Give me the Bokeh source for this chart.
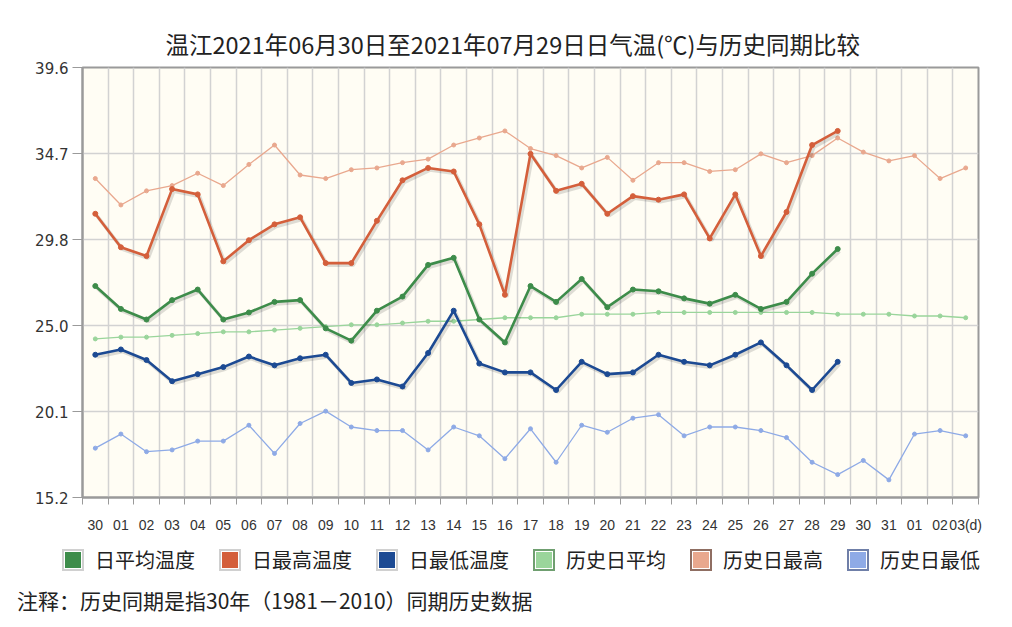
from bokeh.plotting import figure
from bokeh.layouts import column
from bokeh.models import Range1d, FixedTicker, ColumnDataSource, Div
from bokeh.transform import dodge
from bokeh.embed import file_html
from bokeh.resources import INLINE

# ---------------- data ----------------
day_labels = ["30", "01", "02", "03", "04", "05", "06", "07", "08", "09", "10",
              "11", "12", "13", "14", "15", "16", "17", "18", "19", "20", "21",
              "22", "23", "24", "25", "26", "27", "28", "29", "30", "31",
              "01", "02", "03(d)"]

daily_avg = [27.2, 25.9, 25.3, 26.4, 27.0, 25.3, 25.7, 26.3, 26.4, 24.8, 24.1,
             25.8, 26.6, 28.4, 28.8, 25.3, 24.0, 27.2, 26.3, 27.6, 26.0, 27.0,
             26.9, 26.5, 26.2, 26.7, 25.9, 26.3, 27.9, 29.3]
daily_max = [31.3, 29.4, 28.9, 32.7, 32.4, 28.6, 29.8, 30.7, 31.1, 28.5, 28.5,
             30.9, 33.2, 33.9, 33.7, 30.7, 26.7, 34.7, 32.6, 33.0, 31.3, 32.3,
             32.1, 32.4, 29.9, 32.4, 28.9, 31.4, 35.2, 36.0]
daily_min = [23.3, 23.6, 23.0, 21.8, 22.2, 22.6, 23.2, 22.7, 23.1, 23.3, 21.7,
             21.9, 21.5, 23.4, 25.8, 22.8, 22.3, 22.3, 21.3, 22.9, 22.2, 22.3,
             23.3, 22.9, 22.7, 23.3, 24.0, 22.7, 21.3, 22.9]
hist_avg = [24.2, 24.3, 24.3, 24.4, 24.5, 24.6, 24.6, 24.7, 24.8, 24.9, 25.0,
            25.0, 25.1, 25.2, 25.2, 25.3, 25.4, 25.4, 25.4, 25.6, 25.6, 25.6,
            25.7, 25.7, 25.7, 25.7, 25.7, 25.7, 25.7, 25.6, 25.6, 25.6, 25.5,
            25.5, 25.4]
hist_max = [33.3, 31.8, 32.6, 32.9, 33.6, 32.9, 34.1, 35.2, 33.5, 33.3, 33.8,
            33.9, 34.2, 34.4, 35.2, 35.6, 36.0, 35.0, 34.6, 33.9, 34.5, 33.2,
            34.2, 34.2, 33.7, 33.8, 34.7, 34.2, 34.6, 35.6, 34.8, 34.3, 34.6,
            33.3, 33.9]
hist_min = [18.0, 18.8, 17.8, 17.9, 18.4, 18.4, 19.3, 17.7, 19.4, 20.1, 19.2,
            19.0, 19.0, 17.9, 19.2, 18.7, 17.4, 19.1, 17.2, 19.3, 18.9, 19.7,
            19.9, 18.7, 19.2, 19.2, 19.0, 18.6, 17.2, 16.5, 17.3, 16.2, 18.8,
            19.0, 18.7]

y_ticks = [15.2, 20.08, 24.96, 29.84, 34.72, 39.6]
y_tick_labels = ["15.2", "20.1", "25.0", "29.8", "34.7", "39.6"]

series_names = ["日平均温度", "日最高温度", "日最低温度",
                "历史日平均", "历史日最高", "历史日最低"]
title_text = "温江2021年06月30日至2021年07月29日日气温(℃)与历史同期比较"
note_text = "注释：历史同期是指30年（1981－2010）同期历史数据"

# ---------------- styles ----------------
CJK = "Noto Sans CJK SC"
col_avg, col_max, col_min = "#3d8c4a", "#d45f3b", "#1c4a93"
col_havg, col_hmax, col_hmin = "#9ad59b", "#e9a88e", "#8eaae6"

n = len(day_labels)
p = figure(width=996, height=535,
           x_range=Range1d(-0.5, n - 0.5), y_range=Range1d(15.2, 39.6),
           output_backend="svg", toolbar_location=None,
           min_border_left=82, min_border_right=18, min_border_top=67,
           min_border_bottom=35,
           background_fill_color="#fffdf4", border_fill_color="white")

p.title.text = title_text
p.title.text_font = CJK
p.title.text_font_size = "23.5px"
p.title.text_font_style = "normal"
p.title.text_color = "#222222"
p.title.align = "left"
p.title.offset = 83
p.title.standoff = 14

p.outline_line_color = "#9a9a9a"
p.outline_line_width = 2

# x axis: labels at category centres, tick marks at boundaries
p.xaxis.ticker = FixedTicker(ticks=list(range(n)),
                             minor_ticks=[i - 0.5 for i in range(n + 1)])
p.xaxis.major_label_overrides = {i: lab for i, lab in enumerate(day_labels)}
p.xaxis.major_tick_line_color = None
p.xaxis.major_tick_out = 0
p.xaxis.major_tick_in = 0
p.xaxis.minor_tick_line_color = "#9a9a9a"
p.xaxis.minor_tick_out = 7
p.xaxis.minor_tick_in = 0
p.xaxis.minor_tick_line_width = 1
p.xaxis.axis_line_color = "#9a9a9a"
p.xaxis.axis_line_width = 2
p.xaxis.major_label_standoff = 12
p.xaxis.major_label_text_font = "Liberation Sans"
p.xaxis.major_label_text_font_size = "14px"
p.xaxis.major_label_text_color = "#333333"

p.yaxis.ticker = FixedTicker(ticks=y_ticks)
p.yaxis.major_label_overrides = {t: lab for t, lab in zip(y_ticks, y_tick_labels)}
p.yaxis.minor_tick_line_color = None
p.yaxis.major_tick_line_color = "#9a9a9a"
p.yaxis.major_tick_out = 10
p.yaxis.major_tick_in = 0
p.yaxis.axis_line_color = "#9a9a9a"
p.yaxis.axis_line_width = 2
p.yaxis.major_label_standoff = 4
p.yaxis.major_label_text_font = "DejaVu Sans"
p.yaxis.major_label_text_font_size = "15px"
p.yaxis.major_label_text_color = "#333333"

p.xgrid.ticker = FixedTicker(ticks=[i + 0.5 for i in range(n - 1)])
p.xgrid.grid_line_color = "#d2d2d2"
p.xgrid.grid_line_width = 1.5
p.ygrid.grid_line_color = "#d2d2d2"
p.ygrid.grid_line_width = 1.5

xs_all = list(range(n))


def draw(values, color, width, size, shadow):
    src = ColumnDataSource(dict(x=xs_all[:len(values)], y=values))
    if shadow:
        p.line(dodge("x", 0.07), dodge("y", -0.12), source=src,
               line_color="#000000", line_alpha=0.13, line_width=width + 1)
    p.line("x", "y", source=src, line_color=color, line_width=width)
    p.scatter("x", "y", source=src, size=size, fill_color=color,
              line_color=color, marker="circle")


draw(hist_min, col_hmin, 1.3, 4, False)
draw(hist_max, col_hmax, 1.3, 4, False)
draw(hist_avg, col_havg, 1.3, 4, False)
draw(daily_min, col_min, 2.6, 5, True)
draw(daily_max, col_max, 2.6, 5, True)
draw(daily_avg, col_avg, 2.6, 5, True)

# ---------------- legend + note (HTML strip under the plot) ----------------
legend_colors = [col_avg, col_max, col_min, col_havg, col_hmax, col_hmin]
legend_borders = ["#d0d0d0", "#d0d0d0", "#d0d0d0", "#6f9f70", "#8f6e62", "#6f7fa8"]

item_html = ""
for name, c, b in zip(series_names, legend_colors, legend_borders):
    item_html += (
        "<span style='display:inline-flex;align-items:center;margin-right:24px;'>"
        f"<span style='box-sizing:border-box;display:inline-block;width:22px;height:22px;"
        f"background:{c};border:2px solid {b};box-shadow:inset 0 0 0 1px #ffffff;'></span>"
        f"<span style='margin-left:11px;font-size:20px;line-height:24px;'>{name}</span>"
        "</span>")

html = (
    f"<div style=\"position:relative;width:996px;height:90px;font-family:'{CJK}';"
    "color:#222222;\">"
    "<div style='position:absolute;left:62px;top:13px;white-space:nowrap;"
    "display:flex;align-items:center;'>" + item_html + "</div>"
    "<div style='position:absolute;left:17px;top:52px;font-size:21px;"
    "line-height:26px;white-space:nowrap;'>" + note_text + "</div>"
    "</div>")

strip = Div(text=html, width=996, height=90, margin=(0, 0, 0, 0))

open("out.html", "w").write(file_html(column(p, strip), INLINE))
